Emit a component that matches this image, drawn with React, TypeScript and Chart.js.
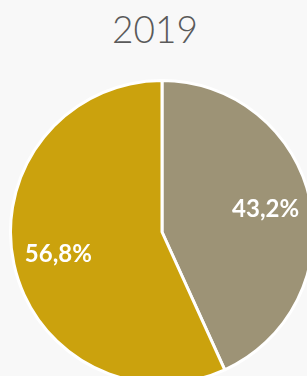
import React, { useEffect, useRef } from "react";
import { Chart, registerables } from "chart.js";
Chart.register(...registerables);

const chartTitle = "2019";
const categories = ["Categoria A", "Categoria B"];
const values = [43.2, 56.8];
const valueLabels = ["43,2%", "56,8%"];
const colors = ["#9d9376", "#cba20d"];

const FONT = "Lato, 'DejaVu Sans', sans-serif";

const sliceLabels = {
  id: "sliceLabels",
  afterDatasetsDraw(chart: any) {
    const ctx = chart.ctx;
    const meta = chart.getDatasetMeta(0);
    ctx.save();
    ctx.font = `bold 24px ${FONT}`;
    ctx.fillStyle = "#ffffff";
    ctx.textAlign = "center";
    ctx.textBaseline = "middle";
    meta.data.forEach((arc: any, i: number) => {
      const p = arc.getProps(["x", "y", "startAngle", "endAngle", "outerRadius"], true);
      const mid = (p.startAngle + p.endAngle) / 2;
      const r = p.outerRadius * 0.7;
      ctx.fillText(valueLabels[i], p.x + Math.cos(mid) * r, p.y + Math.sin(mid) * r);
    });
    ctx.restore();
  },
};

export default function App() {
  const ref = useRef<HTMLCanvasElement | null>(null);
  useEffect(() => {
    if (!ref.current) return;
    const chart = new Chart(ref.current, {
      type: "pie",
      data: {
        labels: categories,
        datasets: [
          {
            data: values,
            backgroundColor: colors,
            borderColor: "#ffffff",
            borderWidth: 3,
          },
        ],
      },
      options: {
        responsive: false,
        animation: false,
        devicePixelRatio: 1,
        layout: { padding: 0 },
        plugins: {
          legend: { display: false },
          tooltip: { enabled: false },
          title: { display: false },
        },
      },
      plugins: [sliceLabels],
    });
    return () => chart.destroy();
  }, []);
  return (
    <div
      style={{
        position: "fixed",
        left: 0,
        top: 0,
        width: 307,
        height: 376,
        overflow: "hidden",
        background: "#f8f8f8",
      }}
    >
      <div
        style={{
          position: "absolute",
          left: 0,
          top: 0,
          width: 310,
          height: 79,
          boxSizing: "border-box",
          paddingTop: 7,
          textAlign: "center",
          fontFamily: FONT,
          fontSize: 37,
          fontWeight: 300,
          lineHeight: "44px",
          color: "#5a5a5a",
        }}
      >
        {chartTitle}
      </div>
      <canvas
        ref={ref}
        width={324}
        height={306}
        style={{ position: "absolute", left: 0, top: 79, display: "block" }}
      />
    </div>
  );
}
